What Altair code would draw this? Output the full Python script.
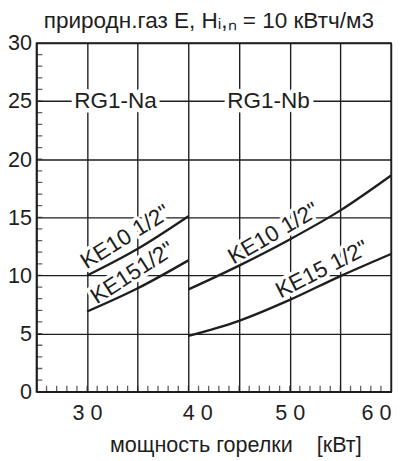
import altair as alt
import pandas as pd

# ---- data ----
curve_ids = ["Na_KE10", "Na_KE10", "Na_KE10",
             "Na_KE15", "Na_KE15", "Na_KE15",
             "Nb_KE10", "Nb_KE10", "Nb_KE10", "Nb_KE10", "Nb_KE10",
             "Nb_KE15", "Nb_KE15", "Nb_KE15", "Nb_KE15", "Nb_KE15"]
curve_x = [30, 35, 40,
           30, 35, 40,
           40, 45, 50, 55, 60,
           40, 45, 50, 55, 60]
curve_y = [10.0, 12.3, 15.1,
           6.9, 8.9, 11.3,
           8.8, 10.85, 13.1, 15.6, 18.6,
           4.8, 6.1, 7.9, 9.95, 11.85]

label_text = ['KE10 1/2"', 'KE151/2"', 'KE10 1/2"', 'KE15 1/2"']
label_x = [33.8, 34.5, 48.4, 53.2]
label_y = [13.3, 10.2, 13.6, 10.5]
label_angle = [328, 327, 330, 333]

group_text = ["RG1-Na", "RG1-Nb"]
group_x = [32.8, 47.9]
group_y = [25, 25]

x_grid_values = [25, 30, 35, 40, 45, 50, 55, 60]
y_grid_values = [0, 5, 10, 15, 20, 25, 30]
x_minor = list(range(26, 60))
y_minor = list(range(1, 30))

title_text = "природн.газ E, Hᵢ,ₙ = 10 кВтч/м3"
x_title = "мощность горелки\u00a0\u00a0\u00a0\u00a0[кВт]"

FONT = "Liberation Sans"
INK = "#1e1e1e"

curves = pd.DataFrame({"curve": curve_ids, "x": curve_x, "y": curve_y})
labels = pd.DataFrame({"text": label_text, "x": label_x, "y": label_y, "angle": label_angle})
groups = pd.DataFrame({"text": group_text, "x": group_x, "y": group_y})
xm = pd.DataFrame({"x": x_minor})
ym = pd.DataFrame({"y": y_minor})

xscale = alt.Scale(domain=[25, 60], nice=False, zero=False)
yscale = alt.Scale(domain=[0, 30], nice=False)

x_axis = alt.Axis(
    values=x_grid_values, grid=True, ticks=False,
    labelExpr="(datum.value % 10 == 0 && datum.value >= 30) ? substring(datum.label,0,1) + ' ' + substring(datum.label,1) : ''",
    labelAlign={"condition": {"test": "datum.value == 60", "value": "right"}, "value": "center"},
    labelOffset={"condition": {"test": "datum.value == 40", "value": 9}, "value": 0},
    labelPadding=11, labelFontSize=22, labelFont=FONT, labelColor=INK,
    title=x_title, titleFont=FONT, titleFontSize=22, titleFontWeight="normal",
    titleColor=INK, titleX=203, titleY=61, titleAlign="center", titleBaseline="alphabetic",
)
y_axis = alt.Axis(
    values=y_grid_values, grid=True, ticks=False, labelPadding=5,
    labelFontSize=22, labelFont=FONT, labelColor=INK, title=None,
)

enc_xy = dict(x=alt.X("x:Q", scale=xscale), y=alt.Y("y:Q", scale=yscale))

curve_layer = alt.Chart(curves).mark_line(
    color=INK, strokeWidth=2.4, interpolate="monotone"
).encode(
    x=alt.X("x:Q", scale=xscale, axis=x_axis),
    y=alt.Y("y:Q", scale=yscale, axis=y_axis),
    detail="curve:N",
)

xminor_layer = alt.Chart(xm).mark_tick(
    orient="vertical", size=12, thickness=1.3, color=INK, clip=True
).encode(x=alt.X("x:Q", scale=xscale), y=alt.Y(datum=0, scale=yscale))

yminor_layer = alt.Chart(ym).mark_tick(
    orient="horizontal", size=12, thickness=1.3, color=INK, clip=True
).encode(y=alt.Y("y:Q", scale=yscale), x=alt.X(datum=25, scale=xscale))

LABEL_SIZE = 23

label_halo = alt.Chart(labels).mark_text(
    font=FONT, fontSize=LABEL_SIZE, stroke="white", strokeWidth=7, fill="white",
    strokeJoin="round", baseline="middle", align="center"
).encode(text="text:N", angle=alt.Angle("angle:Q", scale=None), **enc_xy)

label_layer = alt.Chart(labels).mark_text(
    font=FONT, fontSize=LABEL_SIZE, color=INK, baseline="middle", align="center"
).encode(text="text:N", angle=alt.Angle("angle:Q", scale=None), **enc_xy)

group_halo = alt.Chart(groups).mark_text(
    font=FONT, fontSize=LABEL_SIZE, stroke="white", strokeWidth=9, fill="white",
    strokeJoin="round", baseline="middle", align="center"
).encode(text="text:N", **enc_xy)

group_layer = alt.Chart(groups).mark_text(
    font=FONT, fontSize=LABEL_SIZE, color=INK, baseline="middle", align="center"
).encode(text="text:N", **enc_xy)

chart = alt.layer(
    label_halo, group_halo, curve_layer, xminor_layer, yminor_layer,
    label_layer, group_layer,
).properties(
    width=362, height=356,
    autosize=alt.AutoSizeParams(type="none"),
    padding={"left": 29, "top": 31, "right": 3, "bottom": 66},
    title=alt.TitleParams(title_text, font=FONT, fontSize=23, fontWeight="normal",
                          color=INK, anchor="middle", offset=-1, dx=-5),
).configure_view(
    stroke=INK, strokeWidth=1.5,
).configure_axis(
    gridColor=INK, gridWidth=1.4, gridOpacity=1,
    domainColor=INK, domainWidth=1.5,
)

chart.save("out.html", embed_options={"renderer": "svg", "actions": False})
